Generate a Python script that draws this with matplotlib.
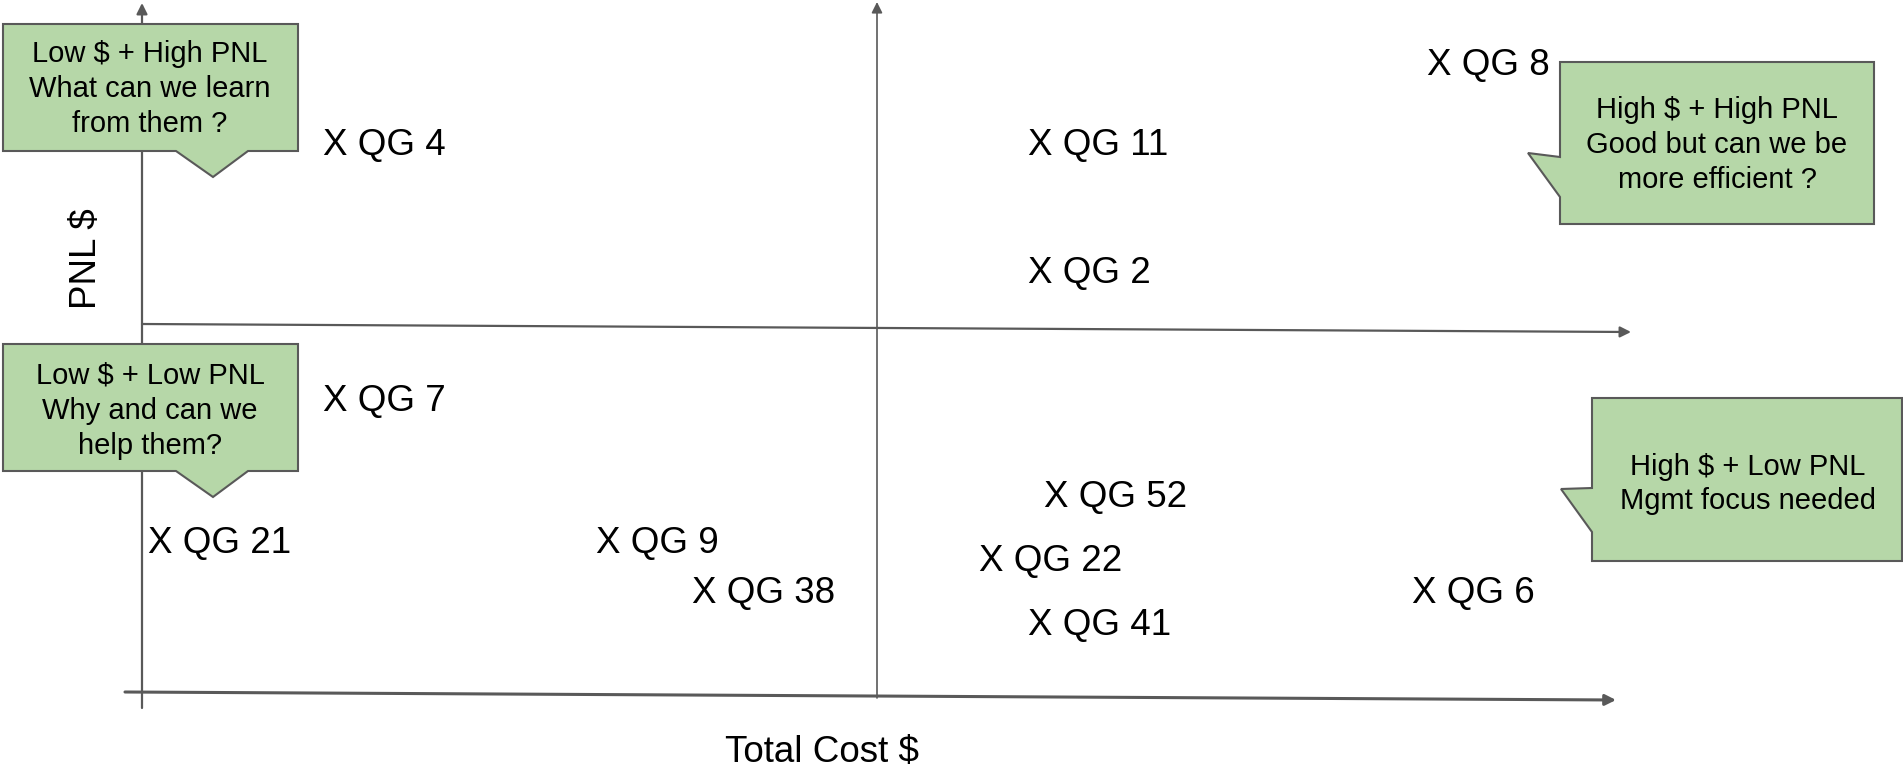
import matplotlib.pyplot as plt
from matplotlib.patches import Polygon

# canvas size (px)
W, H = 1903, 768

# quadrant groups: total cost vs PNL (arbitrary units)
qg_names = ["QG 4", "QG 11", "QG 8", "QG 2", "QG 7", "QG 52",
            "QG 21", "QG 9", "QG 22", "QG 38", "QG 6", "QG 41"]
qg_cost = [323, 1028, 1427, 1028, 323, 1044, 148, 596, 979, 692, 1412, 1028]
qg_pnl = [622, 622, 702, 494, 367, 271, 224, 224, 207, 175, 175, 142]

# callout texts
callouts = [
    "Low $ + High PNL\nWhat can we learn\nfrom them ?",
    "Low $ + Low PNL\nWhy and can we\nhelp them?",
    "High $ + High PNL\nGood but can we be\nmore efficient ?",
    "High $ + Low PNL\nMgmt focus needed",
]

AXIS_COL = "#595959"
BOX_FILL = "#b6d7a8"
FONT = "Liberation Sans"


def px(x, y):
    # layout helper: pixel coords with y measured from the top
    return (x, H - y)


fig = plt.figure(figsize=(W / 100, H / 100), dpi=100)
ax = fig.add_axes([0, 0, 1, 1])
ax.set_xlim(0, W)
ax.set_ylim(0, H)
ax.axis("off")

arrow = dict(arrowstyle="-|>", color=AXIS_COL, lw=1.6, mutation_scale=16,
             shrinkA=0, shrinkB=0)
# vertical axes
ax.annotate("", xy=px(142, 3), xytext=px(142, 708), arrowprops=arrow)
ax.annotate("", xy=px(877, 2), xytext=px(877, 698),
            arrowprops=dict(arrow, lw=1.2))
# horizontal axes
ax.annotate("", xy=px(1631, 332), xytext=px(142, 324), arrowprops=arrow)
ax.annotate("", xy=px(1616, 700), xytext=px(125, 692),
            arrowprops=dict(arrow, lw=2.2))

ax.text(*px(822, 753), "Total Cost $", ha="center", va="center",
        fontsize=26.5, family=FONT)
ax.text(*px(87, 259), "PNL $", ha="center", va="center", rotation=90,
        fontsize=26.5, family=FONT)

for name, c, p in zip(qg_names, qg_cost, qg_pnl):
    ax.text(c, p, "X " + name, ha="left", va="center", fontsize=26.5,
            family=FONT)

# callout shapes
shapes = [
    [(3, 24), (298, 24), (298, 151), (248, 151), (213, 177), (176, 151), (3, 151)],
    [(3, 344), (298, 344), (298, 471), (248, 471), (213, 497), (176, 471), (3, 471)],
    [(1560, 62), (1874, 62), (1874, 224), (1560, 224), (1560, 197), (1528, 153), (1560, 157)],
    [(1592, 398), (1902, 398), (1902, 561), (1592, 561), (1592, 532), (1561, 489), (1592, 488)],
]
text_pos = [(150, 89), (150, 411), (1717, 145), (1748, 484)]
text_size = [21, 21, 21, 21]
text_spacing = [1.32, 1.32, 1.3, 1.3]

for pts, txt, tp, fs, ls in zip(shapes, callouts, text_pos, text_size,
                                text_spacing):
    ax.add_patch(Polygon([px(x, y) for x, y in pts], closed=True,
                         facecolor=BOX_FILL, edgecolor=AXIS_COL, lw=1.5,
                         zorder=3))
    ax.text(*px(*tp), txt, ha="center", va="center", fontsize=fs,
            family=FONT, linespacing=ls, zorder=4)

fig.savefig("out.png", dpi=100)
